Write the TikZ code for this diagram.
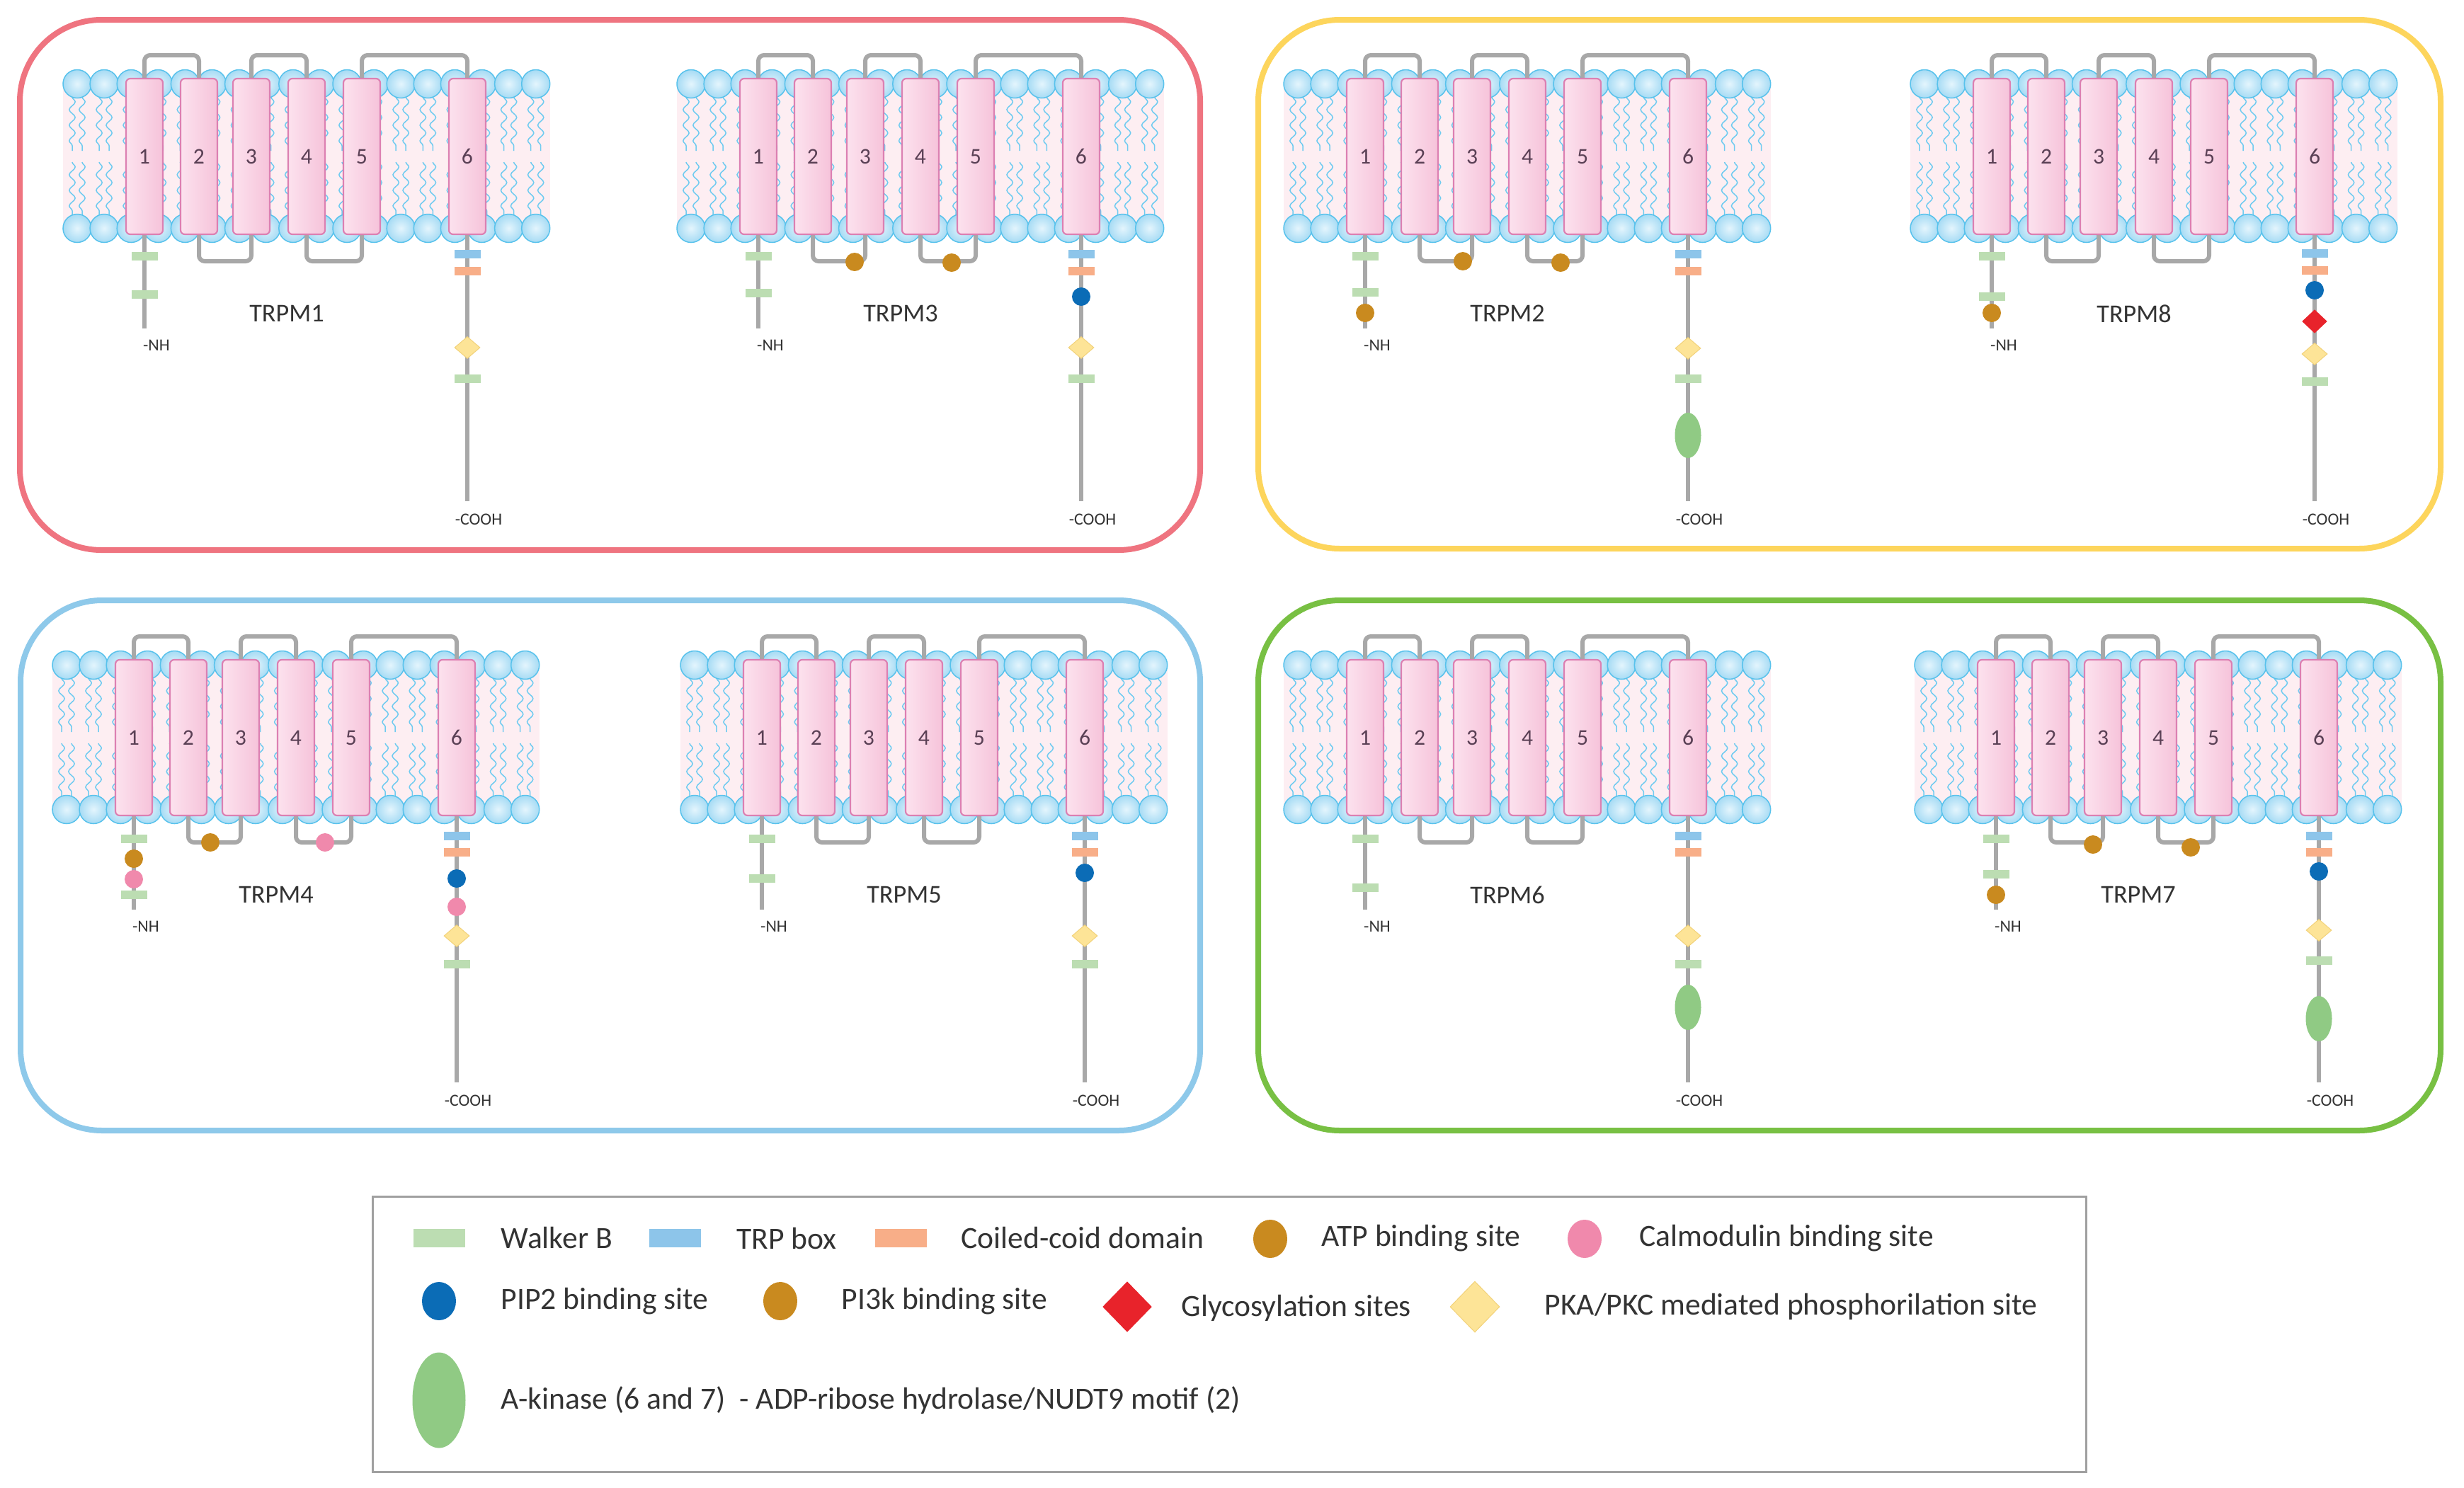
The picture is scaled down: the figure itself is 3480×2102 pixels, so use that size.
\documentclass[tikz,border=0pt]{standalone}
\usepackage{fontspec}
\setmainfont{Carlito}
\usetikzlibrary{decorations.pathmorphing,shapes.geometric}
\pgfdeclarelayer{bgl}
\pgfdeclarelayer{memb}
\pgfdeclarelayer{loops}
\pgfsetlayers{bgl,memb,loops,main}

\definecolor{boxred}{HTML}{EF7480}
\definecolor{boxyellow}{HTML}{FDD55C}
\definecolor{boxblue}{HTML}{8EC9EA}
\definecolor{boxgreen}{HTML}{78C043}
\definecolor{loopgray}{HTML}{A8A8A8}
\definecolor{memPink}{HTML}{FDEEF2}
\definecolor{tailblue}{HTML}{6FCBF0}
\definecolor{sphereIn}{HTML}{E4F5FD}
\definecolor{sphereOut}{HTML}{A6DBF4}
\definecolor{sphereLine}{HTML}{58C2EC}
\definecolor{helixL}{HTML}{FCE2EE}
\definecolor{helixR}{HTML}{F6C3DA}
\definecolor{helixLine}{HTML}{DC80B2}
\definecolor{walkerG}{HTML}{BCDDB2}
\definecolor{trpB}{HTML}{8DC5EA}
\definecolor{coilO}{HTML}{F8AE88}
\definecolor{atpC}{HTML}{C98A1F}
\definecolor{pipB}{HTML}{0B6CB6}
\definecolor{calmP}{HTML}{F089AC}
\definecolor{glycR}{HTML}{E8232B}
\definecolor{pkaY}{HTML}{FDE497}
\definecolor{pkaLine}{HTML}{F2D27A}
\definecolor{akinG}{HTML}{90CA84}
\definecolor{legGray}{HTML}{A0A0A0}
\definecolor{txt}{HTML}{333333}
\definecolor{numtxt}{HTML}{5A4055}

\tikzset{
  frame/.style={line width=0.8mm, rounded corners=11.5mm},
  loopline/.style={draw=loopgray, line width=0.6mm, rounded corners=0.8mm},
  termline/.style={draw=loopgray, line width=0.6mm},
  tail/.style={draw=tailblue, line width=0.15mm, decorate,
    decoration={snake, amplitude=0.42mm, segment length=2.2mm}},
  lipid/.style={draw=sphereLine, line width=0.15mm, inner color=sphereIn, outer color=sphereOut},
  helix/.style={rectangle, rounded corners=0.6mm, minimum width=5.2mm, minimum height=22mm,
    inner sep=0, draw=helixLine, line width=0.22mm, left color=helixL, right color=helixR,
    text=numtxt, font=\fontsize{9}{10}\selectfont},
  barb/.style={rectangle, minimum width=3.7mm, minimum height=1.25mm, inner sep=0},
  walker/.style={barb, fill=walkerG},
  trp/.style={barb, fill=trpB},
  coil/.style={barb, fill=coilO},
  dotb/.style={circle, minimum size=2.6mm, inner sep=0},
  atp/.style={dotb, fill=atpC},
  pip/.style={dotb, fill=pipB},
  calm/.style={dotb, fill=calmP},
  glyc/.style={diamond, fill=glycR, minimum width=3.6mm, minimum height=3.4mm, inner sep=0},
  pka/.style={diamond, fill=pkaY, draw=pkaLine, line width=0.1mm, minimum width=3.6mm, minimum height=3.1mm, inner sep=0},
  akin/.style={ellipse, fill=akinG, minimum width=3.7mm, minimum height=6.4mm, inner sep=0},
  protlab/.style={text=txt, font=\fontsize{10.3}{12}\selectfont, inner sep=0},
  termlab/.style={text=txt, font=\fontsize{6.8}{8}\selectfont, inner sep=0},
  legtext/.style={text=txt, font=\fontsize{12.4}{14}\selectfont, inner sep=0, anchor=west},
  legbar/.style={rectangle, minimum width=7.3mm, minimum height=2.6mm, inner sep=0},
  legdot/.style={ellipse, minimum width=4.8mm, minimum height=5.4mm, inner sep=0},
  legdia/.style={diamond, minimum width=7mm, minimum height=7.2mm, inner sep=0},
}

% #1 ox, #2 oy, #3 name, #4 features
\newcommand{\protein}[4]{%
\begin{scope}[shift={(#1,#2)}, name prefix={#3-}]
  \begin{pgfonlayer}{memb}
    \fill[memPink] (89,120) rectangle (777,322);
    \foreach \i in {0,...,17}{%
      \foreach \dx in {-7,7}{%
        \pgfmathsetmacro\tx{109+38.1*\i+\dx}
        \draw[tail] (\tx,137) -- (\tx,213);
        \draw[tail] (\tx,229) -- (\tx,305);
      }
    }
    \foreach \i in {0,...,17}{%
      \pgfmathsetmacro\cx{109+38.1*\i}
      \shadedraw[lipid] (\cx,118.5) circle (2mm);
      \shadedraw[lipid] (\cx,322.5) circle (2mm);
    }
  \end{pgfonlayer}
  \foreach \n/\hx in {1/204,2/281,3/355,4/433,5/511,6/660}{%
    \node[helix] (h\n) at (\hx,221) {\n};
  }
  \coordinate (nend) at (204,464);
  \coordinate (cend) at (660,708);
  \begin{pgfonlayer}{loops}
    \draw[loopline] (h1.center) -- (h1.center |- 0,78) -- (h2.center |- 0,78) -- (h2.center);
    \draw[loopline] (h3.center) -- (h3.center |- 0,78) -- (h4.center |- 0,78) -- (h4.center);
    \draw[loopline] (h5.center) -- (h5.center |- 0,78) -- (h6.center |- 0,78) -- (h6.center);
    \draw[loopline] (h2.center) -- (h2.center |- 0,369) -- (h3.center |- 0,369) -- (h3.center);
    \draw[loopline] (h4.center) -- (h4.center |- 0,369) -- (h5.center |- 0,369) -- (h5.center);
    \draw[termline] (h1.center) -- (nend);
    \draw[termline] (h6.center) -- (cend);
  \end{pgfonlayer}
  \node[protlab] (lab) at (405,443) {#3};
  \node[termlab] (nh) at (221,488) {-NH};
  \node[termlab] (cooh) at (676,734) {-COOH};
  #4
\end{scope}}

\begin{document}
\begin{tikzpicture}[x=0.1mm,y=-0.1mm]
\useasboundingbox (0,0) rectangle (3480,2102);
\begin{pgfonlayer}{bgl}
  \fill[white] (0,0) rectangle (3480,2102);
\end{pgfonlayer}

% group frames
\draw[frame, draw=boxred] (28,28) rectangle (1695,777);
\draw[frame, draw=boxyellow] (1777,28) rectangle (3447,775);
\draw[frame, draw=boxblue] (29,848) rectangle (1695,1597);
\draw[frame, draw=boxgreen] (1777,848) rectangle (3447,1597);

\protein{0}{0}{TRPM1}{%
  \node[walker] (nw1) at (204,362) {};
  \node[walker] (nw2) at (204,416) {};
  \node[trp] (ct) at (660,359) {};
  \node[coil] (cc) at (660,383) {};
  \node[pka] (ck) at (660,491) {};
  \node[walker] (cw) at (660,535) {};
}
\protein{867}{0}{TRPM3}{%
  \node[walker] (nw1) at (204,362) {};
  \node[walker] (nw2) at (204,414) {};
  \node[atp] (la1) at (340,370) {};
  \node[atp] (la2) at (477,371) {};
  \node[trp] (ct) at (660,359) {};
  \node[coil] (cc) at (660,383) {};
  \node[pip] (cp) at (660,419) {};
  \node[pka] (ck) at (660,491) {};
  \node[walker] (cw) at (660,535) {};
}
\protein{1724}{0}{TRPM2}{%
  \node[walker] (nw1) at (204,362) {};
  \node[walker] (nw2) at (204,413) {};
  \node[atp] (na) at (204,442) {};
  \node[atp] (la1) at (342,369) {};
  \node[atp] (la2) at (480,371) {};
  \node[trp] (ct) at (660,359) {};
  \node[coil] (cc) at (660,383) {};
  \node[pka] (ck) at (660,492) {};
  \node[walker] (cw) at (660,535) {};
  \node[akin] (cak) at (660,615) {};
}
\protein{2609}{0}{TRPM8}{%
  \node[walker] (nw1) at (204,362) {};
  \node[walker] (nw2) at (204,419) {};
  \node[atp] (na) at (204,442) {};
  \node[trp] (ct) at (660,358) {};
  \node[coil] (cc) at (660,382) {};
  \node[pip] (cp) at (660,410) {};
  \node[glyc] (cg) at (660,454) {};
  \node[pka] (ck) at (660,500) {};
  \node[walker] (cw) at (660,539) {};
}
\protein{-15}{821}{TRPM4}{%
  \node[walker] (nw1) at (204,364) {};
  \node[atp] (na) at (204,392) {};
  \node[calm] (nc) at (204,421) {};
  \node[walker] (nw2) at (204,443) {};
  \node[atp] (la1) at (312,369) {};
  \node[calm] (lc1) at (474,369) {};
  \node[trp] (ct) at (660,360) {};
  \node[coil] (cc) at (660,383) {};
  \node[pip] (cp) at (660,420) {};
  \node[calm] (ccm) at (660,460) {};
  \node[pka] (ck) at (660,501) {};
  \node[walker] (cw) at (660,541) {};
}
\protein{872}{821}{TRPM5}{%
  \node[walker] (nw1) at (204,364) {};
  \node[walker] (nw2) at (204,420) {};
  \node[trp] (ct) at (660,360) {};
  \node[coil] (cc) at (660,383) {};
  \node[pip] (cp) at (660,412) {};
  \node[pka] (ck) at (660,501) {};
  \node[walker] (cw) at (660,541) {};
}
\protein{1724}{821}{TRPM6}{%
  \node[walker] (nw1) at (204,364) {};
  \node[walker] (nw2) at (204,433) {};
  \node[trp] (ct) at (660,360) {};
  \node[coil] (cc) at (660,383) {};
  \node[pka] (ck) at (660,501) {};
  \node[walker] (cw) at (660,541) {};
  \node[akin] (cak) at (660,602) {};
}
\protein{2615}{821}{TRPM7}{%
  \node[walker] (nw1) at (204,364) {};
  \node[walker] (nw2) at (204,414) {};
  \node[atp] (na) at (204,443) {};
  \node[atp] (la1) at (341,372) {};
  \node[atp] (la2) at (479,376) {};
  \node[trp] (ct) at (660,360) {};
  \node[coil] (cc) at (660,383) {};
  \node[pip] (cp) at (660,410) {};
  \node[pka] (ck) at (660,493) {};
  \node[walker] (cw) at (660,536) {};
  \node[akin] (cak) at (660,618) {};
}

% legend
\draw[legGray, line width=0.3mm] (526,1690) rectangle (2946,2079);
\node[legbar, fill=walkerG] (lgw) at (620,1749) {};
\node[legtext] (lgwt) at (707,1749) {Walker B};
\node[legbar, fill=trpB] (lgt) at (953,1749) {};
\node[legtext] (lgtt) at (1040,1749) {TRP box};
\node[legbar, fill=coilO] (lgc) at (1272,1749) {};
\node[legtext] (lgct) at (1357,1749) {Coiled-coid domain};
\node[legdot, fill=atpC] (lga) at (1794,1750) {};
\node[legtext] (lgat) at (1866,1749) {ATP binding site};
\node[legdot, fill=calmP] (lgm) at (2238,1750) {};
\node[legtext] (lgmt) at (2315,1749) {Calmodulin binding site};
\node[legdot, fill=pipB] (lgp) at (620,1838) {};
\node[legtext] (lgpt) at (707,1838) {PIP2 binding site};
\node[legdot, fill=atpC] (lgi) at (1102,1838) {};
\node[legtext] (lgit) at (1188,1838) {PI3k binding site};
\node[legdia, fill=glycR] (lgg) at (1592,1846) {};
\node[legtext] (lggt) at (1668,1848) {Glycosylation sites};
\node[legdia, fill=pkaY, draw=pkaLine, line width=0.1mm] (lgk) at (2083,1846) {};
\node[legtext] (lgkt) at (2181,1846) {PKA/PKC mediated phosphorilation site};
\node[ellipse, fill=akinG, minimum width=7.5mm, minimum height=13.5mm, inner sep=0] (lge) at (620,1978) {};
\node[legtext] (lget) at (707,1978) {A-kinase (6 and 7)\ \ - ADP-ribose hydrolase/NUDT9 motif (2)};
\end{tikzpicture}
\end{document}
